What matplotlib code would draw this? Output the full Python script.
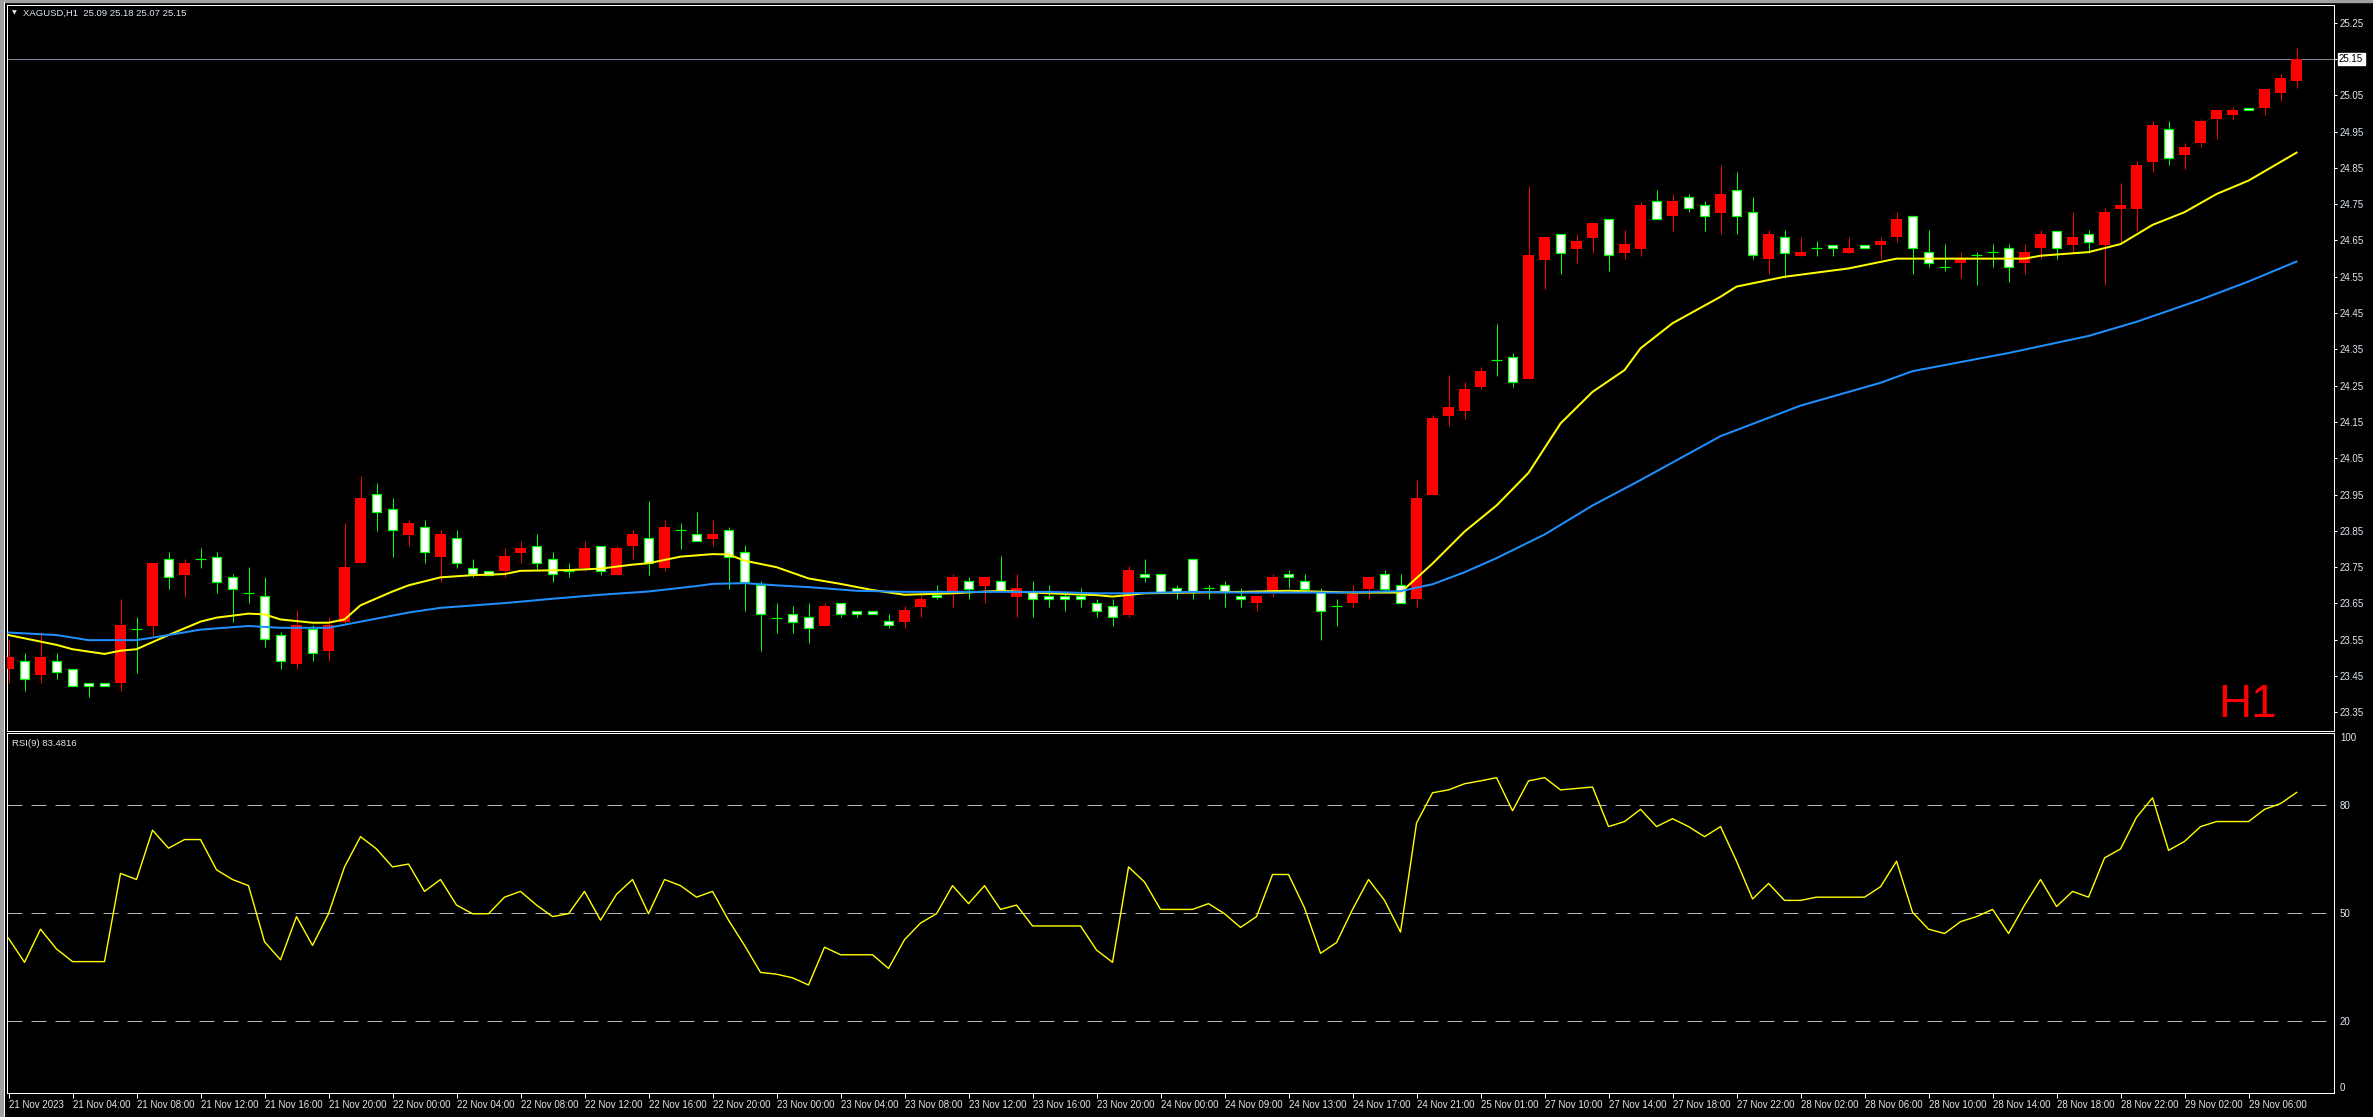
import numpy as np
import matplotlib.pyplot as plt

W, H, DPI = 2373, 1117, 100

# hourly candles XAGUSD, 21 Nov 00:00 .. 29 Nov 09:00 (144 bars)
opens = [23.470, 23.491, 23.452, 23.491, 23.470, 23.432, 23.432, 23.432, 23.581, 23.588,
         23.772, 23.729, 23.772, 23.779, 23.722, 23.680, 23.670, 23.562, 23.482, 23.581,
         23.520, 23.599, 23.761, 23.951, 23.909, 23.840, 23.860, 23.779, 23.830, 23.749,
         23.740, 23.740, 23.790, 23.809, 23.772, 23.740, 23.749, 23.809, 23.729, 23.809,
         23.830, 23.749, 23.852, 23.841, 23.828, 23.852, 23.791, 23.701, 23.611, 23.620,
         23.612, 23.589, 23.651, 23.630, 23.630, 23.601, 23.600, 23.641, 23.673, 23.681,
         23.711, 23.699, 23.711, 23.669, 23.682, 23.671, 23.671, 23.671, 23.651, 23.643,
         23.619, 23.731, 23.731, 23.693, 23.772, 23.693, 23.701, 23.671, 23.651, 23.682,
         23.731, 23.711, 23.682, 23.643, 23.651, 23.691, 23.731, 23.701, 23.662, 23.949,
         24.167, 24.179, 24.247, 24.320, 24.328, 24.269, 24.596, 24.667, 24.627, 24.658,
         24.708, 24.616, 24.627, 24.758, 24.718, 24.769, 24.747, 24.727, 24.788, 24.728,
         24.598, 24.659, 24.608, 24.628, 24.638, 24.616, 24.638, 24.638, 24.659, 24.718,
         24.617, 24.578, 24.587, 24.609, 24.617, 24.628, 24.587, 24.628, 24.677, 24.637,
         24.667, 24.637, 24.738, 24.738, 24.867, 24.956, 24.886, 24.918, 24.985, 24.997,
         25.016, 25.016, 25.057, 25.090]
highs = [23.552, 23.513, 23.571, 23.513, 23.470, 23.432, 23.432, 23.661, 23.612, 23.761,
         23.791, 23.772, 23.802, 23.791, 23.730, 23.751, 23.723, 23.572, 23.631, 23.590,
         23.612, 23.871, 24.001, 23.981, 23.940, 23.880, 23.880, 23.853, 23.853, 23.772,
         23.740, 23.802, 23.822, 23.841, 23.791, 23.761, 23.821, 23.809, 23.809, 23.853,
         23.932, 23.880, 23.871, 23.901, 23.880, 23.860, 23.811, 23.712, 23.650, 23.643,
         23.651, 23.651, 23.651, 23.630, 23.630, 23.620, 23.643, 23.673, 23.701, 23.731,
         23.724, 23.724, 23.781, 23.731, 23.712, 23.701, 23.682, 23.693, 23.662, 23.662,
         23.752, 23.773, 23.731, 23.701, 23.772, 23.701, 23.712, 23.693, 23.671, 23.731,
         23.742, 23.731, 23.693, 23.662, 23.701, 23.724, 23.742, 23.731, 23.990, 24.169,
         24.279, 24.261, 24.302, 24.420, 24.341, 24.800, 24.659, 24.667, 24.667, 24.698,
         24.708, 24.679, 24.757, 24.789, 24.778, 24.778, 24.758, 24.858, 24.838, 24.769,
         24.679, 24.679, 24.659, 24.649, 24.638, 24.659, 24.638, 24.659, 24.728, 24.718,
         24.679, 24.640, 24.617, 24.617, 24.640, 24.640, 24.640, 24.679, 24.677, 24.728,
         24.679, 24.739, 24.807, 24.869, 24.979, 24.979, 24.918, 24.986, 25.009, 25.017,
         25.016, 25.066, 25.109, 25.180]
lows = [23.432, 23.410, 23.432, 23.441, 23.422, 23.392, 23.422, 23.410, 23.459, 23.559,
        23.691, 23.669, 23.749, 23.680, 23.599, 23.650, 23.531, 23.470, 23.470, 23.491,
        23.491, 23.590, 23.761, 23.851, 23.779, 23.808, 23.761, 23.710, 23.749, 23.722,
        23.729, 23.722, 23.761, 23.740, 23.710, 23.722, 23.740, 23.729, 23.729, 23.772,
        23.729, 23.740, 23.801, 23.821, 23.809, 23.691, 23.630, 23.520, 23.570, 23.570,
        23.540, 23.589, 23.612, 23.612, 23.620, 23.582, 23.582, 23.612, 23.662, 23.641,
        23.662, 23.651, 23.685, 23.612, 23.612, 23.641, 23.630, 23.641, 23.612, 23.589,
        23.612, 23.710, 23.682, 23.662, 23.662, 23.662, 23.641, 23.641, 23.630, 23.669,
        23.693, 23.685, 23.550, 23.589, 23.641, 23.662, 23.682, 23.651, 23.641, 23.949,
        24.139, 24.159, 24.240, 24.277, 24.247, 24.269, 24.517, 24.558, 24.587, 24.616,
        24.567, 24.598, 24.607, 24.708, 24.677, 24.728, 24.677, 24.667, 24.667, 24.598,
        24.558, 24.548, 24.608, 24.607, 24.607, 24.616, 24.628, 24.598, 24.647, 24.558,
        24.578, 24.567, 24.548, 24.527, 24.578, 24.537, 24.558, 24.598, 24.598, 24.616,
        24.616, 24.527, 24.647, 24.677, 24.838, 24.858, 24.848, 24.908, 24.929, 24.985,
        25.009, 24.997, 25.035, 25.070]
closes = [23.502, 23.441, 23.502, 23.460, 23.422, 23.422, 23.422, 23.590, 23.581, 23.761,
          23.722, 23.761, 23.772, 23.710, 23.691, 23.680, 23.551, 23.491, 23.590, 23.513,
          23.590, 23.751, 23.940, 23.901, 23.852, 23.871, 23.791, 23.841, 23.761, 23.730,
          23.729, 23.781, 23.803, 23.761, 23.730, 23.740, 23.803, 23.740, 23.803, 23.841,
          23.761, 23.860, 23.852, 23.821, 23.841, 23.779, 23.710, 23.620, 23.611, 23.600,
          23.582, 23.643, 23.620, 23.620, 23.620, 23.590, 23.632, 23.662, 23.669, 23.724,
          23.691, 23.724, 23.685, 23.693, 23.662, 23.662, 23.662, 23.662, 23.630, 23.612,
          23.742, 23.722, 23.682, 23.682, 23.682, 23.693, 23.682, 23.662, 23.671, 23.724,
          23.722, 23.691, 23.630, 23.643, 23.676, 23.724, 23.691, 23.651, 23.941, 24.161,
          24.191, 24.240, 24.290, 24.320, 24.259, 24.609, 24.659, 24.616, 24.649, 24.698,
          24.609, 24.640, 24.748, 24.708, 24.758, 24.739, 24.718, 24.778, 24.718, 24.609,
          24.667, 24.616, 24.617, 24.628, 24.628, 24.628, 24.628, 24.649, 24.708, 24.628,
          24.587, 24.578, 24.598, 24.609, 24.617, 24.578, 24.617, 24.667, 24.628, 24.659,
          24.647, 24.728, 24.747, 24.858, 24.967, 24.877, 24.908, 24.978, 25.009, 25.009,
          25.009, 25.066, 25.097, 25.150]

# moving averages (bar index, price)
fast_ma_bar = [0, 3, 4, 6, 7, 8, 10, 12, 13, 15, 16, 17, 19, 20, 21, 22, 24, 25, 27, 29,
               31, 32, 35, 37, 39, 40, 42, 44, 45, 46, 48, 50, 52, 54, 56, 59, 62, 65, 68, 69,
               71, 74, 77, 80, 84, 87, 89, 91, 93, 95, 97, 99, 101, 102, 104, 107, 108, 111, 115, 118,
               123, 126, 127, 130, 132, 134, 136, 138, 140, 143]
fast_ma_val = [23.563, 23.536, 23.524, 23.511, 23.520, 23.524, 23.563, 23.600, 23.611, 23.622,
               23.620, 23.606, 23.597, 23.597, 23.606, 23.645, 23.683, 23.700, 23.722, 23.728,
               23.731, 23.740, 23.742, 23.746, 23.757, 23.761, 23.779, 23.786, 23.785, 23.768,
               23.750, 23.719, 23.704, 23.687, 23.674, 23.678, 23.685, 23.678, 23.673, 23.669,
               23.678, 23.680, 23.682, 23.685, 23.680, 23.680, 23.760, 23.848, 23.920, 24.010,
               24.146, 24.233, 24.293, 24.353, 24.422, 24.495, 24.523, 24.550, 24.573, 24.600,
               24.600, 24.600, 24.608, 24.618, 24.640, 24.693, 24.728, 24.778, 24.815, 24.892]
slow_ma_bar = [0, 3, 5, 8, 10, 12, 15, 17, 20, 22, 25, 27, 31, 34, 37, 40, 43, 44, 46, 48,
               50, 53, 56, 65, 68, 70, 74, 77, 83, 87, 89, 91, 93, 96, 99, 102, 107, 112, 117, 119,
               125, 130, 133, 137, 140, 143]
slow_ma_val = [23.570, 23.563, 23.549, 23.549, 23.563, 23.578, 23.588, 23.583, 23.583, 23.600,
               23.625, 23.638, 23.651, 23.663, 23.674, 23.683, 23.698, 23.704, 23.706, 23.700,
               23.695, 23.685, 23.682, 23.682, 23.678, 23.678, 23.682, 23.680, 23.680, 23.684,
               23.703, 23.736, 23.775, 23.840, 23.920, 23.990, 24.111, 24.195, 24.258, 24.290,
               24.340, 24.387, 24.426, 24.487, 24.537, 24.592]

rsi = [43, 36.3, 45.5, 40, 36.5, 36.5, 36.5, 61, 59.3, 73,
       68, 70.4, 70.4, 62, 59.3, 57.6, 42, 37, 49, 41,
       49.8, 62.8, 71.2, 67.8, 62.8, 63.6, 56, 59.3, 52.2, 49.8,
       49.8, 54.4, 56, 52.2, 49, 49.8, 56, 48, 55.2, 59.3,
       49.8, 59.3, 57.6, 54.4, 56, 48, 41, 33.5, 33, 32,
       30, 40.5, 38.4, 38.4, 38.4, 34.6, 42.6, 47.2, 49.8, 57.6,
       52.6, 57.6, 51, 52.2, 46.4, 46.4, 46.4, 46.4, 39.7, 36.3,
       62.8, 58.6, 51, 51, 51, 52.6, 49.8, 46, 49, 60.7,
       60.7, 51.4, 38.8, 41.8, 51, 59.3, 53.5, 44.7, 75, 83.4,
       84.2, 85.9, 86.7, 87.6, 78.4, 86.7, 87.6, 84.2, 84.6, 85,
       74, 75.4, 78.8, 74, 76.2, 74, 71.2, 74, 64.4, 53.9,
       58.2, 53.5, 53.5, 54.4, 54.4, 54.4, 54.4, 57.3, 64.4, 50.2,
       45.5, 44.3, 47.6, 49, 51, 44.3, 52.2, 59.3, 51.8, 56,
       54.4, 65.3, 67.8, 76.6, 82, 67.4, 69.9, 74, 75.4, 75.4,
       75.4, 78.8, 80.4, 83.48]

time_labels = ['21 Nov 2023', '21 Nov 04:00', '21 Nov 08:00', '21 Nov 12:00', '21 Nov 16:00',
               '21 Nov 20:00', '22 Nov 00:00', '22 Nov 04:00', '22 Nov 08:00', '22 Nov 12:00',
               '22 Nov 16:00', '22 Nov 20:00', '23 Nov 00:00', '23 Nov 04:00', '23 Nov 08:00',
               '23 Nov 12:00', '23 Nov 16:00', '23 Nov 20:00', '24 Nov 00:00', '24 Nov 09:00',
               '24 Nov 13:00', '24 Nov 17:00', '24 Nov 21:00', '25 Nov 01:00', '27 Nov 10:00',
               '27 Nov 14:00', '27 Nov 18:00', '27 Nov 22:00', '28 Nov 02:00', '28 Nov 06:00',
               '28 Nov 10:00', '28 Nov 14:00', '28 Nov 18:00', '28 Nov 22:00', '29 Nov 02:00',
               '29 Nov 06:00']
label_step = 4
price_labels = ['23.35', '23.45', '23.55', '23.65', '23.75', '23.85', '23.95', '24.05',
                '24.15', '24.25', '24.35', '24.45', '24.55', '24.65', '24.75', '24.85',
                '24.95', '25.05', '25.15', '25.25']
rsi_ticks = [0, 20, 50, 80, 100]
rsi_levels = [20, 50, 80]
last_price = 25.15
title = 'XAGUSD,H1  25.09 25.18 25.07 25.15'
rsi_title = 'RSI(9) 83.4816'

plt.rcParams['font.family'] = ['Liberation Sans', 'DejaVu Sans']
TXT = '#dfe8f2'
PX = 72 / DPI  # one pixel in points

fig = plt.figure(figsize=(W / DPI, H / DPI), dpi=DPI, facecolor='black')


def box(l, t, r, b):
    return [l / W, 1 - b / H, (r - l) / W, (b - t) / H]


def fxy(x, y):
    # pixel position measured from the top-left -> figure fraction
    return x / W, 1 - y / H


ax = fig.add_axes(box(7, 4.5, 2334, 731), facecolor='black')
ax2 = fig.add_axes(box(7, 733, 2334, 1093), facecolor='black', sharex=ax)

o, h, l, c = map(np.array, (opens, highs, lows, closes))
idx = np.arange(len(c))
up, dn, dj = c > o, c < o, c == o

ax.vlines(idx[up], l[up], h[up], color='#ff0000', lw=PX, zorder=2)
ax.vlines(idx[~up], l[~up], h[~up], color='#00ff00', lw=PX, zorder=2)
ax.bar(idx[up], (c - o)[up], bottom=o[up], width=0.67, color='#ff0000', lw=0, zorder=3)
ax.bar(idx[dn], (o - c)[dn], bottom=c[dn], width=0.6, color='white',
       edgecolor='#00ff00', lw=1.2 * PX, zorder=3)
ax.hlines(c[dj], idx[dj] - 0.35, idx[dj] + 0.35, color='#00ff00', lw=1.2 * PX, zorder=3)

ax.plot(fast_ma_bar, fast_ma_val, color='#ffff00', lw=2 * PX, zorder=4)
ax.plot(slow_ma_bar, slow_ma_val, color='#1e90ff', lw=2 * PX, zorder=5)
ax.axhline(last_price, color='#7d8a99', lw=PX, zorder=1)

ax.set_xlim(-0.094, 145.34)
ax.set_ylim(23.2987, 25.3001)
ax2.set_ylim(0, 100)

ax.yaxis.tick_right()
ax.set_yticks([float(p) for p in price_labels])
ax.set_yticklabels(price_labels)
ax.tick_params(axis='y', colors='white', labelcolor=TXT, length=3 * PX, width=PX,
               pad=3 * PX, labelsize=7)
ax.tick_params(axis='x', bottom=False, labelbottom=False)

ax.annotate(f'{last_price:.2f}', xy=(1.0, last_price), xycoords=('axes fraction', 'data'),
            xytext=(5 * PX, 0), textcoords='offset points', ha='left', va='center',
            fontsize=7, color='black',
            bbox=dict(boxstyle='square,pad=0.15', fc='white', ec='white'))

fig.text(*fxy(2277, 717), 'H1', color='#ff0000', fontsize=33, ha='right', va='baseline')
fig.text(*fxy(23, 13), title, color=TXT, fontsize=6.8, va='center', ha='left')
fig.text(*fxy(12, 13), '\u25bc', color=TXT, fontsize=4.5, va='center', ha='left',
         family='DejaVu Sans')

# RSI pane
ax2.plot(idx, rsi, color='#ffff00', lw=1.4 * PX, zorder=3)
for lv in rsi_levels:
    ax2.axhline(lv, color='#b4b4b4', lw=PX, ls=(0, (15, 9)), zorder=1)
ax2.yaxis.tick_right()
ax2.set_yticks(rsi_ticks)
ax2.set_yticklabels([str(v) for v in rsi_ticks])
ax2.tick_params(axis='y', colors='white', labelcolor=TXT, length=0, pad=6 * PX, labelsize=7)
ylabs = ax2.get_yticklabels()
ylabs[0].set_va('bottom')
ylabs[-1].set_va('top')
fig.text(*fxy(12, 743), rsi_title, color=TXT, fontsize=6.8, va='center', ha='left')

ax2.set_xticks(idx[::label_step][:len(time_labels)])
ax2.set_xticklabels(time_labels, ha='left')
ax2.tick_params(axis='x', colors='white', labelcolor=TXT, length=5 * PX, width=PX,
                pad=2 * PX, labelsize=7)

for a in (ax, ax2):
    for s in a.spines.values():
        s.set_color('white')
        s.set_linewidth(PX)

# window frame
fig.patches.append(plt.Rectangle((0, 0), 2.5 / W, 1, transform=fig.transFigure,
                                 color='#a0a0a0', zorder=0))
fig.patches.append(plt.Rectangle((0, 1 - 1.5 / H), 1, 1.5 / H, transform=fig.transFigure,
                                 color='#a0a0a0', zorder=0))
fig.lines.append(plt.Line2D([3.5 / W, 3.5 / W], [0, 1 - 2 / H], transform=fig.transFigure,
                            color='white', lw=PX))

fig.savefig('out.png', dpi=DPI, facecolor='black')
